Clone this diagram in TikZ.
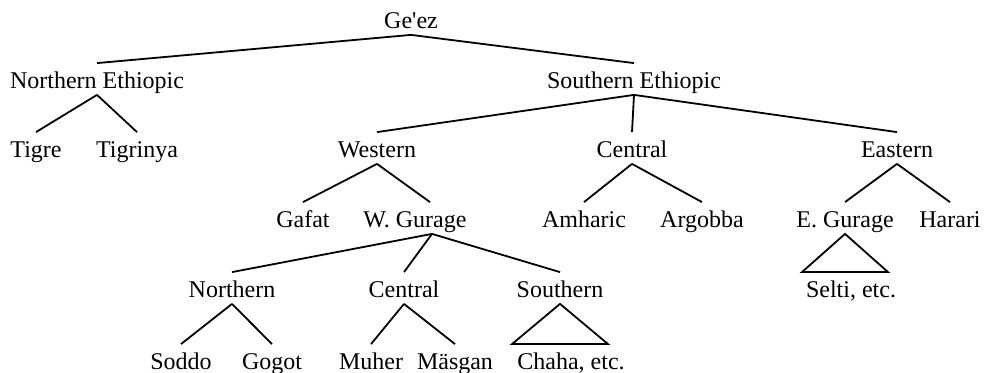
\documentclass[tikz,border=0pt]{standalone}
\usepackage{fontspec}
\setmainfont{Liberation Serif}
\usepackage{tikz}
\usetikzlibrary{calc}

% triangle "roof" from a parent down onto a grouped child
\newcommand{\treeroof}[3]{%
  \draw (#1.south) -- ($(#2.north -| #1.south)+(-#3,0)$)
    -- ($(#2.north -| #1.south)+(#3,0)$) -- cycle;}

\begin{document}
\begin{tikzpicture}[x=0.5pt,y=-0.5pt,line width=0.9pt,
    lang/.style={font=\fontsize{12}{14}\selectfont,text height=10pt,
      text depth=0pt,inner sep=2.5pt}]

\useasboundingbox (0,0) rectangle (984,373);

\node[lang] (geez)     at (411,19)  {Ge\textquotesingle ez};
\node[lang] (neth)     at (97,79)   {Northern Ethiopic};
\node[lang] (seth)     at (634,79)  {Southern Ethiopic};

\node[lang] (tigre)    at (36,148)  {Tigre};
\node[lang] (tigrinya) at (137,148) {Tigrinya};
\node[lang] (western)  at (377,148) {Western};
\node[lang] (central)  at (632,148) {Central};
\node[lang] (eastern)  at (897,148) {Eastern};

\node[lang] (gafat)    at (303,218) {Gafat};
\node[lang] (wgur)     at (415,218) {W. Gurage};
\node[lang] (amharic)  at (584,218) {Amharic};
\node[lang] (argobba)  at (702,218) {Argobba};
\node[lang] (egur)     at (845,218) {E. Gurage};
\node[lang] (harari)   at (950,218) {Harari};

\node[lang] (wnorth)   at (232,288) {Northern};
\node[lang] (wcentral) at (404,288) {Central};
\node[lang] (wsouth)   at (560,288) {Southern};
\node[lang] (selti)    at (851,288) {Selti, etc.};

\node[lang] (soddo)    at (181,360) {Soddo};
\node[lang] (gogot)    at (272,360) {Gogot};
\node[lang] (muher)    at (371,360) {Muher};
\node[lang] (masgan)   at (455,360) {Mäsgan};
\node[lang] (chaha)    at (571,360) {Chaha, etc.};

\coordinate (wgtop) at ([xshift=7.5pt]wgur.north);
\coordinate (wgbot) at ([xshift=8.5pt]wgur.south);

\path
    (geez.south)     edge (neth.north)
    (geez.south)     edge (seth.north)
    (neth.south)     edge (tigre.north)
    (neth.south)     edge (tigrinya.north)
    (seth.south)     edge (western.north)
    (seth.south)     edge (central.north)
    (seth.south)     edge (eastern.north)
    (western.south)  edge (gafat.north)
    (western.south)  edge (wgtop)
    (central.south)  edge (amharic.north)
    (central.south)  edge (argobba.north)
    (eastern.south)  edge (egur.north)
    (eastern.south)  edge (harari.north)
    (wgbot)          edge (wnorth.north)
    (wgbot)          edge (wcentral.north)
    (wgbot)          edge (wsouth.north)
    (wnorth.south)   edge (soddo.north)
    (wnorth.south)   edge (gogot.north)
    (wcentral.south) edge (muher.north)
    (wcentral.south) edge (masgan.north);

\treeroof{egur}{selti}{21.5pt}
\treeroof{wsouth}{chaha}{24pt}

\end{tikzpicture}
\end{document}
